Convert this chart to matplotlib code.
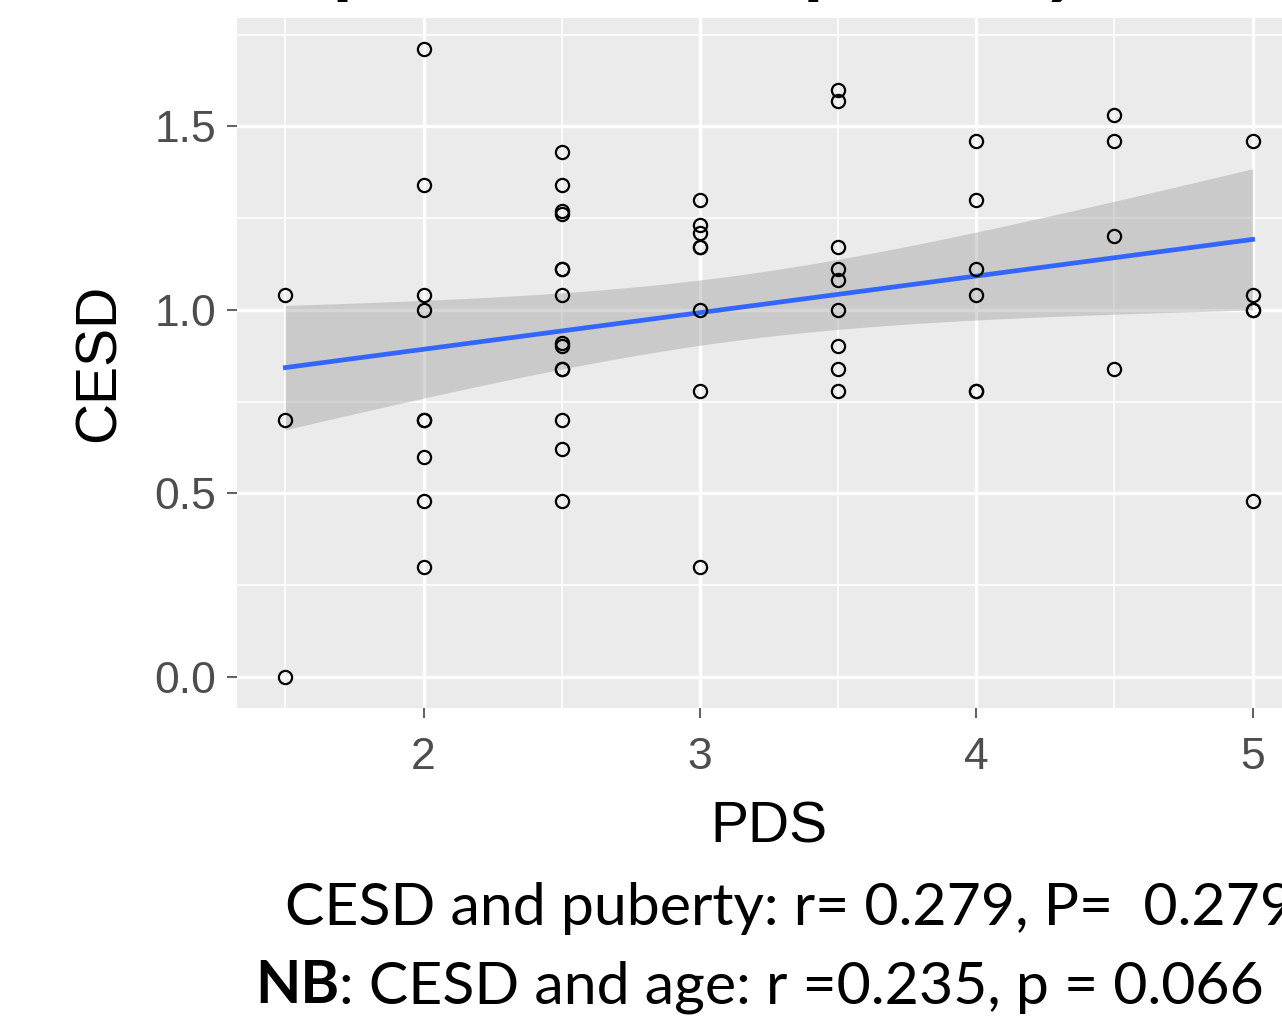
import numpy as np
import matplotlib
matplotlib.use("Agg")
import matplotlib.pyplot as plt
from matplotlib.ticker import MultipleLocator

# ---------------- data ----------------
pds_levels = [1.5, 2.0, 2.5, 3.0, 3.5, 4.0, 4.5, 5.0]
cesd_15 = [1.04, 0.70, 0.00]
cesd_20 = [1.71, 1.34, 1.04, 1.00, 0.70, 0.70, 0.60, 0.48, 0.30]
cesd_25 = [1.43, 1.34, 1.27, 1.26, 1.11, 1.11, 1.04, 0.91, 0.90, 0.84, 0.84, 0.70, 0.62, 0.48]
cesd_30 = [1.30, 1.23, 1.21, 1.17, 1.17, 1.00, 0.78, 0.30]
cesd_35 = [1.60, 1.57, 1.17, 1.11, 1.08, 1.00, 0.90, 0.84, 0.78]
cesd_40 = [1.46, 1.30, 1.11, 1.04, 0.78, 0.78]
cesd_45 = [1.53, 1.46, 1.20, 0.84]
cesd_50 = [1.46, 1.04, 1.00, 1.00, 0.48]
groups = [cesd_15, cesd_20, cesd_25, cesd_30, cesd_35, cesd_40, cesd_45, cesd_50]

x_ticks = [2, 3, 4, 5]
y_ticks = [0.0, 0.5, 1.0, 1.5]
x_label = "PDS"
y_label = "CESD"
title = "Depression and puberty"
line1 = "CESD and puberty: r= 0.279, P=  0.279"
line2_bold = "NB"
line2_rest = ": CESD and age: r =0.235, p = 0.066"

pds = np.concatenate([[lv] * len(g) for lv, g in zip(pds_levels, groups)])
cesd = np.concatenate(groups)

# ---------------- linear fit with 95% CI (like geom_smooth(method="lm")) ----------------
n = len(pds)
b1, b0 = np.polyfit(pds, cesd, 1)
resid = cesd - (b0 + b1 * pds)
s = np.sqrt(np.sum(resid ** 2) / (n - 2))
xm = pds.mean()
sxx = np.sum((pds - xm) ** 2)
t_crit = 2.003  # t(0.975, df=56)
xs = np.linspace(pds.min(), pds.max(), 100)
ys = b0 + b1 * xs
se = s * np.sqrt(1.0 / n + (xs - xm) ** 2 / sxx)

# ---------------- figure ----------------
W, H, DPI = 1282, 1017, 100
fig = plt.figure(figsize=(W / DPI, H / DPI), dpi=DPI)
fig.patch.set_facecolor("white")

left, right, bottom, top = 237, 1301, 708, 18
ax = fig.add_axes([left / W, 1 - bottom / H, (right - left) / W, (bottom - top) / H])
ax.set_facecolor("#EBEBEB")
for sp in ax.spines.values():
    sp.set_visible(False)

xr = pds.max() - pds.min()
yr = cesd.max() - cesd.min()
ax.set_xlim(pds.min() - 0.05 * xr, pds.max() + 0.05 * xr)
ax.set_ylim(cesd.min() - 0.05 * yr, cesd.max() + 0.05 * yr)

ax.xaxis.set_major_locator(plt.FixedLocator(x_ticks))
ax.yaxis.set_major_locator(plt.FixedLocator(y_ticks))
ax.xaxis.set_minor_locator(MultipleLocator(0.5))
ax.yaxis.set_minor_locator(MultipleLocator(0.25))
ax.set_yticklabels([f"{v:.1f}" for v in y_ticks])
ax.set_xticklabels([str(v) for v in x_ticks])

ax.grid(which="major", color="white", linewidth=2.4)
ax.grid(which="minor", color="white", linewidth=1.2)
ax.set_axisbelow(True)

ax.tick_params(which="major", length=7, width=1.1, color="#333333",
               labelsize=32, labelcolor="#4D4D4D")
ax.tick_params(axis="x", which="major", pad=14)
ax.tick_params(axis="y", which="major", pad=8)
ax.tick_params(which="minor", length=0)
for lab in ax.get_xticklabels() + ax.get_yticklabels():
    lab.set_family("Liberation Sans")

ax.fill_between(xs, ys - t_crit * se, ys + t_crit * se, color="#999999", alpha=0.4,
                linewidth=0, zorder=2)
ax.plot(xs, ys, color="#3366FF", linewidth=3.4, zorder=3)
ax.plot(pds, cesd, linestyle="none", marker="o", markersize=9.5, markerfacecolor="none",
        markeredgecolor="black", markeredgewidth=1.6, zorder=4)

ax.set_xlabel(x_label, fontsize=41, family="Liberation Sans", color="black", labelpad=16)
ax.set_ylabel(y_label, fontsize=41, family="Liberation Sans", color="black", labelpad=20)

# ---------------- slide texts ----------------
renderer = fig.canvas.get_renderer()
txt_font = "Lato"

def px_width(t):
    return t.get_window_extent(renderer=renderer).width

# second line: bold "NB" + regular rest, fitted to the span 255..1265 px
fs2 = 44
tb = fig.text(255 / W, 1 - 1003 / H, line2_bold, fontsize=fs2, fontweight="bold",
              family=txt_font, va="baseline", ha="left")
tr = fig.text(0, 1 - 1003 / H, line2_rest, fontsize=fs2, family=txt_font,
              va="baseline", ha="left")
total = px_width(tb) + px_width(tr)
fs2 = fs2 * (1265 - 255) / total
tb.set_fontsize(fs2)
tr.set_fontsize(fs2)
tr.set_x((255 + px_width(tb)) / W)

fig.text(285 / W, 1 - 925 / H, line1, fontsize=fs2, family=txt_font,
         va="baseline", ha="left")

# title, mostly cut off at the top of the slide (only descenders visible)
tt = fig.text(0, 1 + 12 / H, title, fontsize=60, fontweight="bold", family=txt_font,
              va="baseline", ha="left")
probe = fig.text(0, -1, "pression and ", fontsize=60, fontweight="bold", family=txt_font)
fs_t = 60 * 471 / px_width(probe)
probe.set_fontsize(fs_t)
tt.set_fontsize(fs_t)
pre = fig.text(0, -1, "De", fontsize=fs_t, fontweight="bold", family=txt_font)
pp = fig.text(0, -1, "p", fontsize=fs_t, fontweight="bold", family=txt_font)
tt.set_x((355 - px_width(pre) - px_width(pp) / 2) / W)
for t in (probe, pre, pp):
    t.remove()

fig.savefig("out.png", dpi=DPI, facecolor="white")
